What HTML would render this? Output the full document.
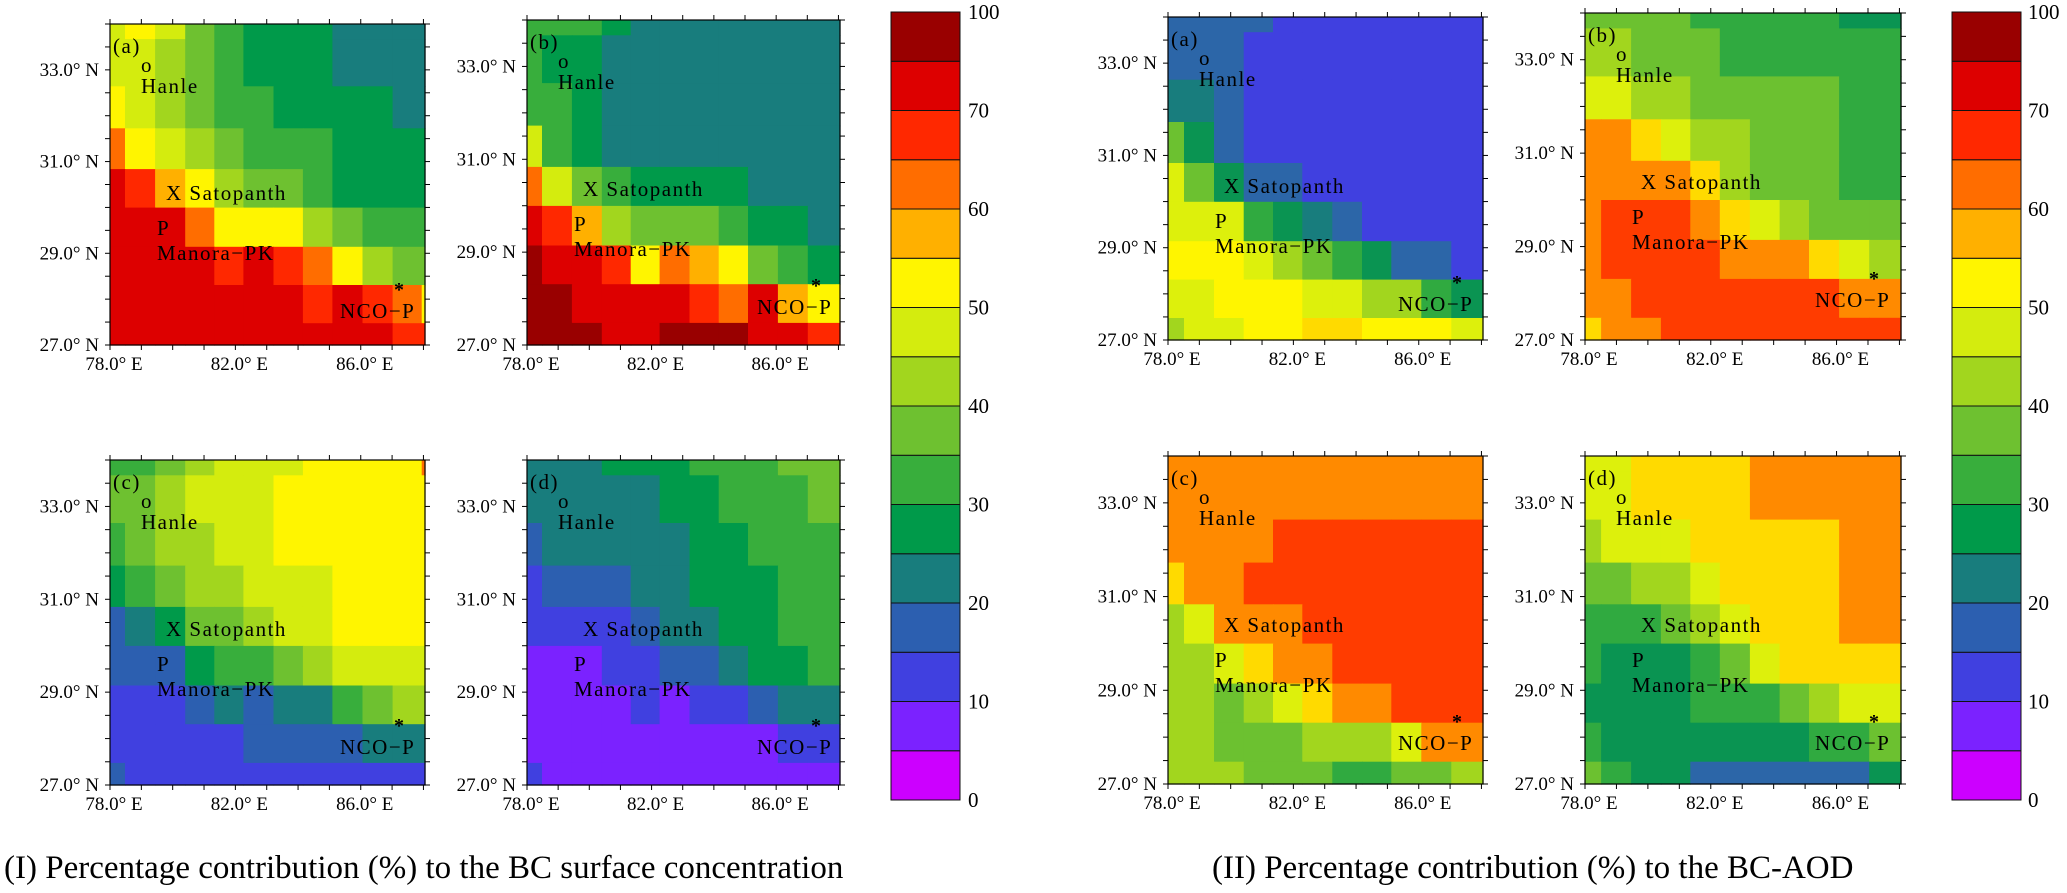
<!DOCTYPE html>
<html><head><meta charset="utf-8">
<style>
html,body{margin:0;padding:0;background:#fff;}
svg{display:block;}
text{font-family:"Liberation Serif",serif;fill:#000;}
</style></head>
<body>
<svg id="fig" width="2067" height="893" viewBox="0 0 2067 893" xmlns="http://www.w3.org/2000/svg">
<text x="4" y="878" font-size="33">(I) Percentage contribution (%) to the BC surface concentration</text>
<text x="1212" y="878" font-size="33">(II) Percentage contribution (%) to the BC-AOD</text>
</svg>
<script>
// colour levels (%): boundaries of colour classes
const levelBounds = [0,5,10,15,20,25,30,35,40,45,50,55,60,65,70,85,100];
const cbarLabels = ["0","10","20","30","40","50","60","70","100"];
const latTicks = ["27.0° N","29.0° N","31.0° N","33.0° N"];
const lonTicks = ["78.0° E","82.0° E","86.0° E"];

// Section I: surface concentration (12 columns x 9 rows, top->bottom)
const surfA = [
[47,52,47,37,32,27,27,27,22,22,22,22],
[47,47,42,37,32,27,27,27,22,22,22,22],
[52,47,42,37,32,32,27,27,27,27,22,22],
[62,52,47,42,37,32,32,32,27,27,27,27],
[77,67,57,52,42,37,37,32,27,27,27,27],
[77,77,77,62,52,52,52,42,37,32,32,32],
[77,77,77,77,67,77,67,62,52,42,37,37],
[77,77,77,77,77,77,77,67,77,67,62,52],
[77,77,77,77,77,77,77,77,77,77,67,67]];
const surfB = [
[32,32,32,27,22,22,22,22,22,22,22,22],
[32,27,27,22,22,22,22,22,22,22,22,22],
[32,32,27,22,22,22,22,22,22,22,22,22],
[47,32,27,22,22,22,22,22,22,22,22,22],
[62,47,37,32,27,27,27,27,22,22,22,22],
[77,67,57,42,37,37,37,32,27,27,22,22],
[92,77,77,67,52,62,57,52,37,32,27,27],
[92,92,77,77,77,77,67,62,77,57,52,52],
[92,92,92,77,77,92,92,92,77,77,67,67]];
const surfC = [
[32,32,37,42,47,47,47,52,52,52,52,62],
[37,37,42,47,47,47,52,52,52,52,52,52],
[32,37,42,42,47,47,52,52,52,52,52,52],
[27,32,37,42,42,47,47,47,52,52,52,52],
[17,22,27,37,37,42,47,47,52,52,52,52],
[17,17,17,27,32,32,37,42,47,47,47,47],
[12,12,12,17,22,17,22,22,32,37,42,42],
[12,12,12,12,12,17,17,17,17,22,22,22],
[17,12,12,12,12,12,12,12,12,12,12,12]];
const surfD = [
[22,22,22,27,27,27,32,32,32,37,37,37],
[22,22,22,22,22,27,27,32,32,32,37,37],
[17,22,22,22,22,22,27,27,32,32,32,32],
[12,17,17,17,22,22,27,27,27,32,32,32],
[12,12,12,12,17,22,22,27,27,32,32,32],
[7,7,7,12,12,17,17,22,27,27,32,32],
[7,7,7,7,12,7,12,12,17,22,22,22],
[7,7,7,7,7,7,7,7,7,12,12,12],
[12,7,7,7,7,7,7,7,7,7,7,7]];
// Section II: BC-AOD (11 columns x 9 rows)
const aodA = [
[17,17,17,17,12,12,12,12,12,12,12],
[17,17,17,12,12,12,12,12,12,12,12],
[22,22,17,12,12,12,12,12,12,12,12],
[37,27,17,12,12,12,12,12,12,12,12],
[47,37,27,17,17,12,12,12,12,12,12],
[47,47,47,32,27,22,17,12,12,12,12],
[52,52,52,47,42,37,32,27,17,17,12],
[47,47,52,52,52,47,47,42,42,32,27],
[42,47,47,52,52,57,57,52,52,52,47]];
const aodB = [
[37,37,37,37,32,32,32,32,32,27,27],
[42,42,37,37,37,32,32,32,32,32,32],
[47,47,42,42,37,37,37,37,37,32,32],
[62,62,57,47,42,42,37,37,37,32,32],
[62,62,62,62,57,42,37,37,37,32,32],
[62,67,67,67,62,57,47,42,37,37,37],
[62,67,67,67,67,62,62,62,57,47,42],
[62,62,67,67,67,67,67,67,67,62,62],
[57,62,62,67,67,67,67,67,67,67,67]];
const aodC = [
[62,62,62,62,62,62,62,62,62,62,62],
[62,62,62,62,62,62,62,62,62,62,62],
[62,62,62,62,67,67,67,67,67,67,67],
[57,62,62,67,67,67,67,67,67,67,67],
[42,47,62,62,62,67,67,67,67,67,67],
[42,42,47,57,62,62,67,67,67,67,67],
[42,42,37,42,47,57,62,62,67,67,67],
[42,42,37,37,37,42,42,42,47,62,62],
[42,42,42,37,37,37,32,32,37,37,42]];
const aodD = [
[47,47,57,57,57,57,62,62,62,62,62],
[47,47,57,57,57,57,62,62,62,62,62],
[42,47,47,47,57,57,57,57,57,62,62],
[37,37,42,42,47,57,57,57,57,62,62],
[32,32,32,37,42,47,57,57,57,62,62],
[32,27,27,27,32,37,47,57,57,57,57],
[27,27,27,27,32,32,32,37,42,47,47],
[32,27,27,27,27,27,27,27,32,32,37],
[37,32,27,27,17,17,17,17,17,17,27]];

const palI = ["#cc00ff","#7b22ff","#4040e0","#2c5fb0","#187d7d","#009a4a","#38ae3c","#6ec130","#a2d61e","#d4ec0e","#fff500","#ffb000","#ff6d00","#ff2800","#dd0000","#990000"];
const palII = ["#cc00ff","#7b22ff","#4040e0","#2c66a8","#187d7d","#0a9452","#30aa40","#6cc130","#a2d61e","#ddf00c","#fff500","#ffda00","#ff8a00","#ff3c00","#dd0000","#990000"];

const colFracI = [0,45,135,225,312,399,489,577,665,755,845,932,942].map(v=>v/942);
const colFracII = [0,48,138,227,315,403,493,582,670,760,850,945].map(v=>v/945);
const rowFrac = [0,.047,.194,.325,.452,.572,.694,.813,.932,1];

function levelIndex(v){
  for(let i=0;i<levelBounds.length-1;i++){ if(v<levelBounds[i+1]) return i; }
  return levelBounds.length-2;
}
const NS="http://www.w3.org/2000/svg";
const svg=document.getElementById('fig');
function mk(tag,attrs,parent){
  const e=document.createElementNS(NS,tag);
  for(const k in attrs) e.setAttribute(k,attrs[k]);
  (parent||svg).appendChild(e);
  return e;
}

const panels=[
 {id:'surface-a',lab:'(a)',data:surfA,x:110,y:24,w:315,h:321,cf:colFracI,pal:palI},
 {id:'surface-b',lab:'(b)',data:surfB,x:527,y:20,w:313,h:325,cf:colFracI,pal:palI},
 {id:'surface-c',lab:'(c)',data:surfC,x:110,y:460,w:315,h:325,cf:colFracI,pal:palI},
 {id:'surface-d',lab:'(d)',data:surfD,x:527,y:460,w:313,h:325,cf:colFracI,pal:palI},
 {id:'aod-a',lab:'(a)',data:aodA,x:1168,y:17,w:315,h:323,cf:colFracII,pal:palII},
 {id:'aod-b',lab:'(b)',data:aodB,x:1585,y:13,w:316,h:327,cf:colFracII,pal:palII},
 {id:'aod-c',lab:'(c)',data:aodC,x:1168,y:456,w:315,h:328,cf:colFracII,pal:palII},
 {id:'aod-d',lab:'(d)',data:aodD,x:1585,y:456,w:316,h:328,cf:colFracII,pal:palII}
];

panels.forEach(p=>{
  const g=mk('g',{});
  
  
  const xs=c=>p.x+p.cf[c]*p.w;
  const ys=r=>p.y+rowFrac[r]*p.h;
  p.data.forEach((row,r)=>{
    row.forEach((v,c)=>{
      if(c>=p.cf.length-1) return;
      const x0=xs(c),x1=xs(c+1),y0=ys(r),y1=ys(r+1);
      const cell=mk('rect',{x:x0.toFixed(1),y:y0.toFixed(1),width:(x1-x0+0.6).toFixed(1),height:(y1-y0+0.6).toFixed(1),fill:p.pal[levelIndex(v)]},g);
      
      
    });
  });
  const fr=mk('rect',{x:p.x,y:p.y,width:p.w,height:p.h,fill:'none',stroke:'#000','stroke-width':1.2},g);
  
  
  // ticks
  for(let i=0;i<=10;i++){
    const x=p.x+i*p.w/10.05;
    mk('line',{x1:x,y1:p.y,x2:x,y2:p.y-5,stroke:'#000','stroke-width':1},g);
    mk('line',{x1:x,y1:p.y+p.h,x2:x,y2:p.y+p.h+5,stroke:'#000','stroke-width':1},g);
  }
  for(let i=0;i<=14;i++){
    const y=p.y+p.h-i*p.h/14;
    mk('line',{x1:p.x,y1:y,x2:p.x-5,y2:y,stroke:'#000','stroke-width':1},g);
    mk('line',{x1:p.x+p.w,y1:y,x2:p.x+p.w+5,y2:y,stroke:'#000','stroke-width':1},g);
  }
  latTicks.forEach((t,i)=>{
    const y=p.y+p.h-(i*2)*p.h/7;
    const tx=mk('text',{x:p.x-11,y:y+6,'font-size':19,'text-anchor':'end'},g);
    tx.textContent=t;
    
    
  });
  lonTicks.forEach((t,i)=>{
    const x=p.x+(i*4)*p.w/10.05;
    const tx=mk('text',{x:x+4,y:p.y+p.h+25,'font-size':19,'text-anchor':'middle'},g);
    tx.textContent=t;
    
    
  });
  const anns=[[p.lab,3,29],['o',31,48],['Hanle',31,69],['X Satopanth',56,176],['P',47,211],['Manora\u2212PK',47,236],['NCO\u2212P',230,294]];
  anns.forEach(a=>{
    const tx=mk('text',{x:p.x+a[1],y:p.y+a[2],'font-size':21,'letter-spacing':1.5},g);
    tx.textContent=a[0];
    
    
  });
  const st=mk('text',{x:p.x+284,y:p.y+272,'font-size':20,'font-weight':'bold'},g);
  st.textContent='*';
  
  
});

// colorbars
[{x:891,lx:968,id:'colorbar-surface'},{x:1952,lx:2028,id:'colorbar-aod'}].forEach(cb=>{
  const g=mk('g',{});
  
  
  const top=12,bot=800,n=levelBounds.length-1,seg=(bot-top)/n;
  for(let i=0;i<n;i++){
    const r=mk('rect',{x:cb.x,y:bot-(i+1)*seg,width:69,height:seg,fill:palI[i],stroke:'#111','stroke-width':1},g);
    
    
  }
  cbarLabels.forEach((t,i)=>{
    const idx = i<8 ? i*2 : 16;
    const y=bot-idx*seg;
    const tx=mk('text',{x:cb.lx,y:y+7,'font-size':21},g);
    tx.textContent=t;
    
    
  });
});
</script>
</body></html>
